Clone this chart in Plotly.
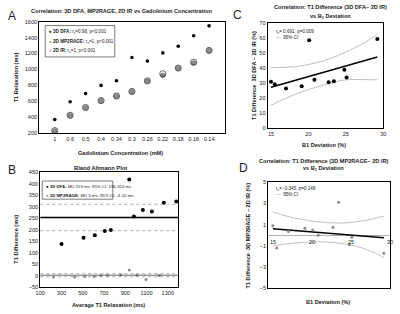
import plotly.graph_objects as go

W, H = 400, 314
def px(x): return x / W
def py(y): return 1 - y / H

FONT = "Liberation Sans"

# ---------------- Panel A data ----------------
gd_conc = ['1', '0.6', '0.5', '0.4', '0.34', '0.3', '0.26', '0.22', '0.18', '0.16', '0.14']
t1_dfa = [370, 593, 695, 798, 857, 1150, 1104, 1207, 1290, 1423, 1547]
t1_mp2rage = [225, 419, 518, 605, 662, 720, 853, 925, 1014, 1080, 1236]
t1_ir = [228, 422, 520, 607, 665, 722, 855, 945, 1016, 1090, 1238]
a_yticks = [200, 400, 600, 800, 1000, 1200, 1400, 1600]

# ---------------- Panel B data ----------------
avg_dfa = [300, 507, 613, 707, 764, 937, 981, 1065, 1150, 1262, 1380]
diff_dfa = [138, 165, 176, 194, 199, 418, 257, 285, 279, 317, 322]
avg_mp = [225, 423, 520, 607, 668, 730, 857, 937, 1008, 1095, 1220]
diff_mp = [-5, -5, -3, -3, 2, 2, 4, 26, 3, -16, 2]
md_dfa, ci_dfa = 253, [196, 310]
md_mp, ci_mp = 3, [-4, 10]
b_xticks = [100, 300, 500, 700, 900, 1100, 1300]
b_yticks = [-50, 0, 50, 100, 150, 200, 250, 300, 350, 400, 450]

# ---------------- Panel C / D data ----------------
b1_dev = [15.0, 15.5, 17.0, 19.1, 20.1, 20.8, 22.7, 23.4, 24.8, 25.1, 29.2]
diff_dfa_pct = [31, 29.3, 26.5, 28, 58.7, 32.3, 30.6, 31.4, 39, 33.8, 59.5]
diff_mp_pct = [0.9, -1.2, 0.35, 0.65, 0.5, 0.0, 0.75, 3.1, -0.9, -0.2, -1.7]
reg_x = [15.0, 29.2]
reg_c = [27.3, 47.5]
reg_d = [0.6, -0.23]
ci_x = [15, 16, 17, 18, 19, 20, 21, 22, 23, 24, 25, 26, 27, 28, 29.2]
ci_c_upper = [40.5, 40.5, 40.6, 41, 41.6, 42.5, 43.6, 45, 46.7, 48.6, 50.8, 53.2, 55.8, 58.6, 62.5]
ci_c_lower = [15.3, 17.8, 20.1, 22.2, 24.1, 25.8, 27.3, 28.8, 30.2, 31.5, 32.3, 32.5, 32.5, 32.4, 32.3]
ci_d_upper = [2.2, 1.95, 1.75, 1.58, 1.45, 1.33, 1.25, 1.18, 1.15, 1.15, 1.2, 1.3, 1.42, 1.58, 1.8]
ci_d_lower = [-1.0, -0.9, -0.8, -0.72, -0.67, -0.63, -0.62, -0.64, -0.7, -0.8, -0.93, -1.1, -1.35, -1.65, -2.1]
c_xticks = [15, 20, 25, 30]
c_yticks = [0, 10, 20, 30, 40, 50, 60, 70]
d_yticks = [-5, -3, -1, 1, 3, 5]

fig = go.Figure()

# A
fig.add_trace(go.Scatter(x=gd_conc, y=t1_dfa, mode='markers', xaxis='x', yaxis='y',
                         marker=dict(color='black', size=3.6)))
fig.add_trace(go.Scatter(x=gd_conc, y=t1_mp2rage, mode='markers', xaxis='x', yaxis='y',
                         marker=dict(color='#8c8c8c', size=4.6, line=dict(color='#555', width=0.5))))
fig.add_trace(go.Scatter(x=gd_conc, y=t1_ir, mode='markers', xaxis='x', yaxis='y',
                         marker=dict(symbol='circle-open', color='#222', size=6.2, line=dict(width=0.7))))

# B
fig.add_trace(go.Scatter(x=avg_dfa, y=diff_dfa, mode='markers', xaxis='x2', yaxis='y2',
                         marker=dict(color='black', size=4)))
fig.add_trace(go.Scatter(x=avg_mp, y=diff_mp, mode='markers', xaxis='x2', yaxis='y2',
                         marker=dict(color='#8c8c8c', size=3)))

# C
fig.add_trace(go.Scatter(x=ci_x, y=ci_c_upper, mode='lines', xaxis='x3', yaxis='y3',
                         line=dict(color='#b0b0b0', width=0.8, shape='spline')))
fig.add_trace(go.Scatter(x=ci_x, y=ci_c_lower, mode='lines', xaxis='x3', yaxis='y3',
                         line=dict(color='#b0b0b0', width=0.8, shape='spline')))
fig.add_trace(go.Scatter(x=reg_x, y=reg_c, mode='lines', xaxis='x3', yaxis='y3',
                         line=dict(color='black', width=1.5)))
fig.add_trace(go.Scatter(x=b1_dev, y=diff_dfa_pct, mode='markers', xaxis='x3', yaxis='y3',
                         marker=dict(color='black', size=4)))

# D
fig.add_trace(go.Scatter(x=ci_x, y=ci_d_upper, mode='lines', xaxis='x4', yaxis='y4',
                         line=dict(color='#b0b0b0', width=0.8, shape='spline')))
fig.add_trace(go.Scatter(x=ci_x, y=ci_d_lower, mode='lines', xaxis='x4', yaxis='y4',
                         line=dict(color='#b0b0b0', width=0.8, shape='spline')))
fig.add_trace(go.Scatter(x=reg_x, y=reg_d, mode='lines', xaxis='x4', yaxis='y4',
                         line=dict(color='black', width=1.5)))
fig.add_trace(go.Scatter(x=b1_dev, y=diff_mp_pct, mode='markers', xaxis='x4', yaxis='y4',
                         marker=dict(color='#8c8c8c', size=3)))

tickfont = dict(family=FONT, size=5.6, color='#222')
axbase = dict(showline=True, linecolor='black', linewidth=1, mirror=True, ticks='',
              showgrid=False, zeroline=False, tickfont=tickfont, fixedrange=True)

layout = dict(
    width=W, height=H, margin=dict(l=0, r=0, t=0, b=0),
    paper_bgcolor='white', plot_bgcolor='white', showlegend=False,
    font=dict(family=FONT, color='#222'),
    xaxis=dict(axbase, domain=[px(35), px(224)], anchor='y', type='category',
               range=[-1, 11]),
    yaxis=dict(axbase, domain=[py(132.5), py(19)], anchor='x', range=[200, 1600],
               tickvals=a_yticks),
    xaxis2=dict(axbase, domain=[px(36), px(177)], anchor='y2', range=[100, 1400],
                tickvals=b_xticks),
    yaxis2=dict(axbase, domain=[py(290), py(172.3)], anchor='x2', range=[-50, 450],
                tickvals=b_yticks),
    xaxis3=dict(axbase, domain=[px(268), px(386)], anchor='y3', range=[14.55, 30],
                tickvals=c_xticks),
    yaxis3=dict(axbase, domain=[py(127.7), py(20.7)], anchor='x3', range=[0, 70],
                tickvals=c_yticks),
    xaxis4=dict(axbase, domain=[px(268.5), px(393)], anchor='y4', range=[14.4, 30],
                showticklabels=False),
    yaxis4=dict(axbase, domain=[py(291), py(182.5)], anchor='x4', range=[-5, 5],
                tickvals=d_yticks, zeroline=True, zerolinecolor='#b0b0b0', zerolinewidth=1),
)

shapes = []
# B reference lines
shapes.append(dict(type='line', xref='x2 domain', yref='y2', x0=0, x1=1, y0=md_dfa, y1=md_dfa,
                   line=dict(color='black', width=1.3)))
for v in ci_dfa + ci_mp:
    shapes.append(dict(type='line', xref='x2 domain', yref='y2', x0=0, x1=1, y0=v, y1=v,
                       line=dict(color='#9a9a9a', width=0.8, dash='dot')))
shapes.append(dict(type='line', xref='x2 domain', yref='y2', x0=0, x1=1, y0=md_mp, y1=md_mp,
                   line=dict(color='#666', width=1)))
# legend boxes
shapes.append(dict(type='rect', xref='paper', yref='paper', x0=px(41), x1=px(112),
                   y0=py(55), y1=py(23), line=dict(color='#444', width=0.7)))
shapes.append(dict(type='rect', xref='paper', yref='paper', x0=px(38), x1=px(110),
                   y0=py(200), y1=py(181.5), line=dict(color='#444', width=0.7)))
layout['shapes'] = shapes

ann = []
def A(x, y, text, size=5.6, bold=False, xanchor='center', yanchor='middle', angle=0, color='#222'):
    t = f"<b>{text}</b>" if bold else text
    ann.append(dict(x=px(x), y=py(y), xref='paper', yref='paper', text=t, showarrow=False,
                    xanchor=xanchor, yanchor=yanchor, textangle=angle,
                    font=dict(family=FONT, size=size, color=color)))

# panel letters
A(7, 13, "A", size=12)
A(7, 170, "B", size=12)
A(237, 12, "C", size=12)
A(243, 168, "D", size=12)

# titles
A(119, 8, "Correlation: 3D DFA, MP2RAGE, 2D IR vs Gadolinium Concentration", size=5.6, bold=True)
A(97, 168, "Bland Altmann Plot", size=5.8, bold=True)
A(332, 4.5, "Correlation: T1 Difference (3D DFA– 2D IR)", size=5.6, bold=True)
A(332, 13.5, "vs B<sub>1</sub> Deviation", size=5.6, bold=True)
A(325, 161, "Correlation: T1 Difference (3D MP2RAGE– 2D IR)", size=5.6, bold=True)
A(325, 168.5, "vs B<sub>1</sub> Deviation", size=5.6, bold=True)

# axis titles
A(11.5, 75.5, "T1 Relaxation (ms)", size=5.6, bold=True, angle=-90)
A(118, 153, "Gadolinium Concentration (mM)", size=5.6, bold=True)
A(11.5, 241, "T1 Difference (ms)", size=5.6, bold=True, angle=-90)
A(106, 308, "Average T1 Relaxation (ms)", size=5.6, bold=True)
A(253.5, 74, "T1 Difference  3D DFA – 2D IR (%)", size=5.6, bold=True, angle=-90)
A(326, 145, "B1 Deviation (%)", size=5.6, bold=True)
A(248, 237, "T1 Difference  3D MP2RAGE – 2D IR (%)", size=5.6, bold=True, angle=-90)
A(330, 305, "B1 Deviation (%)", size=5.6, bold=True)

# legends A
A(42.5, 29.3, "<span style='color:black'>●</span> <b>3D DFA:</b> r<sub>s</sub>=0.98, p&lt;0.001", size=4.6, xanchor='left')
A(42.5, 39.3, "<span style='color:#8c8c8c'>●</span> <b>3D MP2RAGE:</b> r<sub>s</sub>=1, p&lt;0.001", size=4.6, xanchor='left')
A(42.5, 49.3, "○ <b>2D IR:</b> r<sub>s</sub>=1, p&lt;0.001", size=4.6, xanchor='left')
# legends B
A(39.5, 187.3, "<span style='color:black'>●</span> <b>3D DFA:</b> MD 253 ms; 95% CI, 196-310 ms", size=4.3, xanchor='left')
A(39.5, 196, "<span style='color:#8c8c8c'>●</span> <b>3D MP2RAGE:</b> MD 3 ms; 95% CI, -4-10 ms", size=4.3, xanchor='left')
# legends C, D
A(274, 29.5, "r<sub>s</sub>= 0.691, p=0.009", size=4.6, xanchor='left')
A(274, 35, "<span style='color:#999'>—</span>  95% CI", size=4.6, xanchor='left')
A(274, 189.5, "r<sub>s</sub>= -0.345, p=0.149", size=4.6, xanchor='left')
A(274, 195, "<span style='color:#999'>—</span>  95% CI", size=4.6, xanchor='left')

# D tick labels on zero line
for v in c_xticks:
    ann.append(dict(x=v, y=0, xref='x4', yref='y4', text=str(v), showarrow=False,
                    xanchor='center', yanchor='top', yshift=-1.5,
                    font=dict(family=FONT, size=5.6, color='#222')))

layout['annotations'] = ann
fig.update_layout(**layout)
fig.write_html("out.html", config={'displayModeBar': False, 'staticPlot': True},
               post_script="document.body.style.margin='0px';document.body.style.padding='0px';")
